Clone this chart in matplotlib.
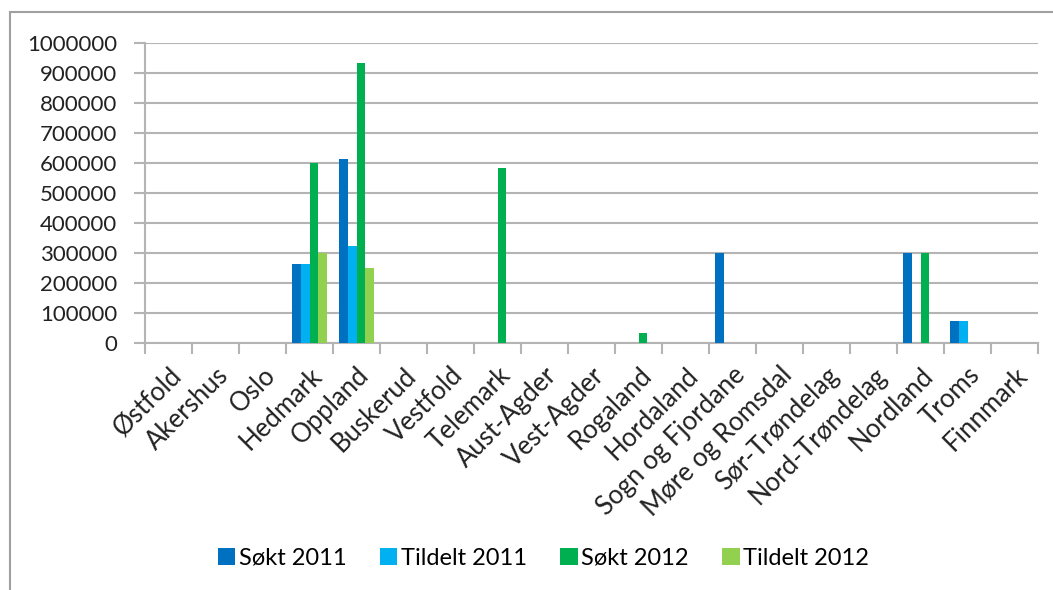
import numpy as np
import matplotlib
matplotlib.use('Agg')
import matplotlib.pyplot as plt
from matplotlib.patches import Rectangle

plt.rcParams['font.family'] = ['Lato', 'DejaVu Sans']

fylker = ['Østfold', 'Akershus', 'Oslo', 'Hedmark', 'Oppland', 'Buskerud',
          'Vestfold', 'Telemark', 'Aust-Agder', 'Vest-Agder', 'Rogaland',
          'Hordaland', 'Sogn og Fjordane', 'Møre og Romsdal', 'Sør-Trøndelag',
          'Nord-Trøndelag', 'Nordland', 'Troms', 'Finnmark']
sokt_2011    = [0, 0, 0, 262000, 614000, 0, 0, 0, 0, 0, 0, 0, 300000, 0, 0, 0, 300000, 75000, 0]
tildelt_2011 = [0, 0, 0, 262000, 323000, 0, 0, 0, 0, 0, 0, 0, 0, 0, 0, 0, 0, 75000, 0]
sokt_2012    = [0, 0, 0, 600000, 933000, 0, 0, 582000, 0, 0, 35000, 0, 0, 0, 0, 0, 300000, 0, 0]
tildelt_2012 = [0, 0, 0, 300000, 250000, 0, 0, 0, 0, 0, 0, 0, 0, 0, 0, 0, 0, 0, 0]

series = [('Søkt 2011', sokt_2011, '#0070C0'),
          ('Tildelt 2011', tildelt_2011, '#00B0F0'),
          ('Søkt 2012', sokt_2012, '#00B050'),
          ('Tildelt 2012', tildelt_2012, '#92D050')]

fig = plt.figure(figsize=(10.53, 5.90), dpi=100)
ax = fig.add_axes([0.1377, 0.4186, 0.8481, 0.5084])

# outer chart border
fig.patches.append(Rectangle((10 / 1053, -0.05), 1.1, (590 - 12) / 590 + 0.05,
                             transform=fig.transFigure, fill=False,
                             edgecolor='#A0A0A0', lw=1.5))

n = len(fylker)
x = np.arange(n)
bw = 0.727 / 4
for i, (lab, vals, col) in enumerate(series):
    ax.bar(x - 0.3635 + bw * (i + 0.5), vals, width=bw, color=col, label=lab,
           zorder=3)

ax.set_xlim(-0.5, n - 0.5)
ax.set_ylim(0, 1000000)
ax.set_yticks(np.arange(0, 1000001, 100000))
ax.set_yticklabels([str(v) for v in range(0, 1000001, 100000)], fontsize=16,
                   color='#222222')
ax.yaxis.grid(True, color='#B4B4B4', lw=1.5, zorder=0)
ax.tick_params(axis='y', length=8, color='#B4B4B4', width=1.5, pad=12)

ax.set_xticks(np.arange(-0.5, n, 1.0), minor=False)
ax.set_xticklabels([])
ax.tick_params(axis='x', which='major', length=8, color='#B4B4B4', width=1.5)
ax.set_xticks(x, minor=True)
ax.set_xticklabels(fylker, minor=True, rotation=45, ha='right',
                   rotation_mode='anchor', fontsize=18.5, color='#222222')
ax.tick_params(axis='x', which='minor', length=0, pad=14)

for s in ('top', 'right'):
    ax.spines[s].set_visible(False)
for s in ('left', 'bottom'):
    ax.spines[s].set_color('#B4B4B4')
    ax.spines[s].set_linewidth(1.5)

fig.legend(loc='center', bbox_to_anchor=(0.516, 0.054), ncol=4, frameon=False,
           fontsize=17, handlelength=0.75, handleheight=0.75,
           handletextpad=0.15, columnspacing=1.4)

fig.savefig('out.png', dpi=100)
